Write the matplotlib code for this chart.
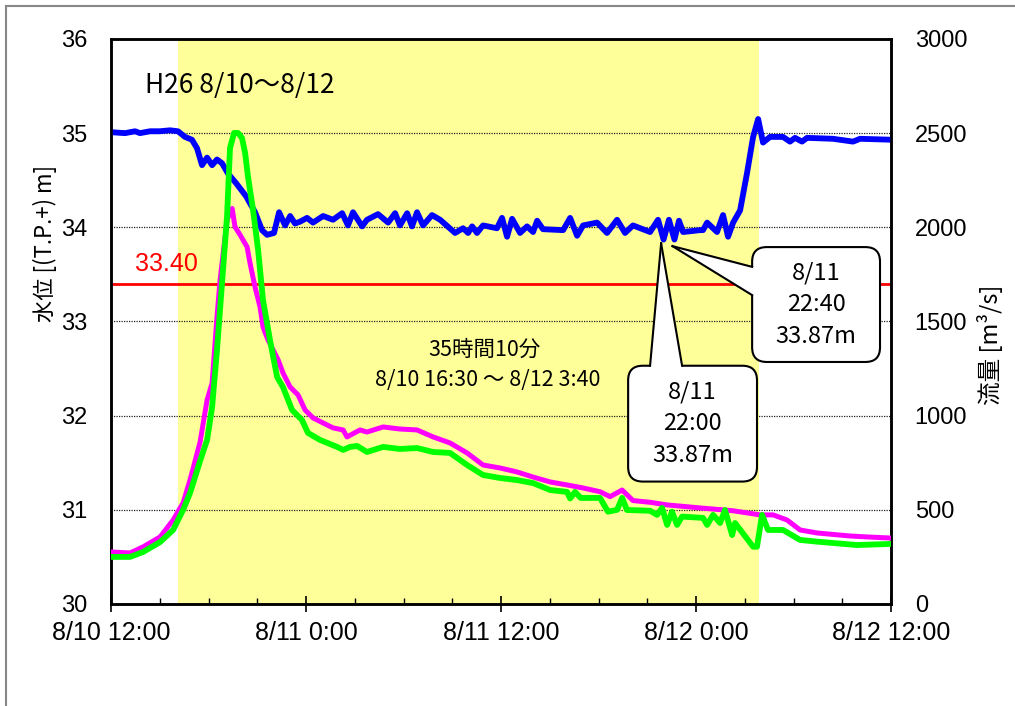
import matplotlib
matplotlib.use("Agg")
import matplotlib.pyplot as plt
from matplotlib.patches import FancyBboxPatch, Polygon
from matplotlib.lines import Line2D

plt.rcParams['font.family'] = ['Liberation Sans', 'Noto Sans CJK JP', 'DejaVu Sans']
JP = ['Noto Sans CJK JP', 'DejaVu Sans']

# x values are hours after 8/10 12:00
level_h = [0, 0.86, 1.48, 1.78, 2.4, 3.0, 3.63, 4.12, 4.55, 4.98,
           5.29, 5.6, 5.91, 6.22, 6.52, 6.83, 7.2, 7.69, 8.31, 8.86,
           9.29, 9.6, 10.03, 10.34, 10.71, 11.02, 11.32, 11.63, 12.06, 12.43,
           13.05, 13.66, 14.22, 14.58, 14.89, 15.45, 15.75, 16.43, 17.05, 17.48,
           17.78, 18.22, 18.52, 18.83, 19.2, 19.75, 20.25, 21.17, 21.66, 21.97,
           22.22, 22.52, 22.89, 23.75, 24.06, 24.37, 24.68, 25.17, 25.6, 25.97,
           26.22, 26.58, 27.82, 28.25, 28.68, 29.05, 29.91, 30.52, 31.14, 31.63,
           32.12, 33.17, 33.66, 34.0, 34.33, 34.67, 34.95, 35.2, 36.25, 36.43,
           36.68, 37.29, 37.66, 37.97, 38.28, 38.71, 39.14, 39.51, 39.82, 40.12,
           40.55, 41.35, 41.78, 42.09, 42.52, 42.83, 44.43, 45.66, 46.09, 48.0]
level_m = [35.01, 35.00, 35.02, 35.00, 35.02, 35.02, 35.03, 35.02, 34.96, 34.93,
           34.84, 34.66, 34.74, 34.66, 34.72, 34.68, 34.57, 34.47, 34.33, 34.16,
           33.97, 33.92, 33.94, 34.16, 34.02, 34.12, 34.04, 34.06, 34.10, 34.05,
           34.12, 34.08, 34.15, 34.02, 34.16, 34.01, 34.08, 34.14, 34.05, 34.15,
           34.02, 34.15, 34.01, 34.16, 34.02, 34.13, 34.08, 33.94, 33.99, 33.94,
           34.01, 33.94, 34.02, 33.99, 34.10, 33.90, 34.09, 33.94, 34.01, 33.95,
           34.07, 33.98, 33.97, 34.10, 33.91, 34.02, 34.05, 33.94, 34.08, 33.94,
           34.02, 33.95, 34.08, 33.87, 34.08, 33.87, 34.07, 33.95, 33.97, 33.97,
           34.05, 33.95, 34.13, 33.90, 34.05, 34.18, 34.58, 34.96, 35.15, 34.90,
           34.96, 34.96, 34.91, 34.95, 34.91, 34.95, 34.94, 34.91, 34.94, 34.93]

mag_h = [0, 1.17, 1.97, 3.02, 3.82, 4.43, 4.86, 5.48, 5.91, 6.22,
         6.52, 6.71, 7.14, 7.45, 7.63, 7.94, 8.37, 8.55, 8.86, 9.17,
         9.35, 9.66, 9.97, 10.28, 10.58, 11.02, 11.51, 11.94, 12.43, 13.05,
         13.66, 14.28, 14.52, 15.32, 15.75, 16.74, 17.78, 18.83, 19.82, 20.86,
         21.91, 22.89, 23.94, 24.98, 25.97, 27.02, 28.06, 29.05, 30.09, 30.71,
         31.45, 32.12, 33.17, 34.22, 36.25, 38.28, 39.94, 40.74, 41.6, 42.4,
         43.45, 45.48, 46.52, 48.0]
mag_q = [276, 271, 303, 356, 446, 536, 658, 860, 1083, 1173,
         1524, 1720, 2040, 2100, 2002, 1960, 1896, 1811, 1683, 1577,
         1471, 1402, 1349, 1296, 1227, 1152, 1110, 1030, 988, 961,
         935, 924, 887, 924, 913, 940, 929, 924, 887, 855,
         802, 738, 722, 701, 674, 648, 632, 616, 596, 570,
         605, 549, 540, 526, 510, 495, 473, 473, 446, 393,
         377, 361, 356, 350]

grn_h = [0, 1.17, 1.97, 3.02, 3.82, 4.43, 4.86, 5.48, 5.91, 6.22,
         6.52, 6.83, 7.14, 7.32, 7.57, 7.82, 8.06, 8.25, 8.43, 8.74,
         9.05, 9.35, 9.78, 10.22, 10.58, 11.14, 11.75, 12.12, 12.86, 13.91,
         14.28, 14.71, 15.14, 15.75, 16.74, 17.78, 18.83, 19.82, 20.86, 21.91,
         22.89, 23.94, 24.98, 25.97, 27.02, 28.06, 28.25, 28.55, 28.9, 30.09,
         30.58, 31.14, 31.45, 31.75, 33.17, 33.6, 33.91, 34.22, 34.52, 34.83,
         35.14, 36.43, 36.68, 37.05, 37.48, 37.78, 38.22, 38.4, 39.51, 39.75,
         40.06, 40.43, 41.35, 42.4, 43.45, 45.9, 48.0]
grn_q = [250, 250, 276, 329, 393, 499, 589, 760, 871, 1046,
         1349, 1705, 2060, 2420, 2501, 2501, 2474, 2395, 2267, 2092,
         1880, 1614, 1402, 1205, 1152, 1030, 977, 908, 871, 834,
         818, 834, 839, 807, 834, 823, 828, 807, 802, 738,
         685, 669, 658, 642, 605, 595, 560, 595, 563, 563,
         490, 500, 563, 499, 495, 473, 510, 420, 490, 420,
         464, 457, 420, 473, 430, 499, 366, 430, 304, 304,
         473, 393, 393, 340, 331, 313, 319]

x_ticks = [0, 12, 24, 36, 48]
x_labels = ['8/10 12:00', '8/11 0:00', '8/11 12:00', '8/12 0:00', '8/12 12:00']
span_start, span_end = 4.12, 39.9   # 8/10 16:30 - 8/12 3:40
threshold = 33.40

fig = plt.figure(figsize=(10.15, 7.06), dpi=100)
ax = fig.add_axes([0.1094, 0.1445, 0.7685, 0.8003])

ax.axvspan(span_start, span_end, color='#FFFF99', lw=0, zorder=0)
for v in range(31, 36):
    ax.axhline(v, color='#222222', lw=0.9, ls=(0, (1, 1)), zorder=1)
ax.axhline(threshold, color='#FF0000', lw=2, zorder=2)
ax.plot(level_h, level_m, color='#0000FF', lw=4.2, zorder=3, solid_joinstyle='round')

ax.set_xlim(0, 48)
ax.set_ylim(30, 36)
ax.set_yticks(range(30, 37))
ax.set_xticks(x_ticks)
ax.set_xticklabels(x_labels)
ax.set_xticks(range(0, 49, 3), minor=True)
ax.tick_params(axis='x', which='major', direction='inout', length=12, width=1.2,
               labelsize=18, pad=6)
ax.tick_params(axis='x', which='minor', direction='in', length=4, width=1)
ax.tick_params(axis='y', length=0, labelsize=17, pad=17)
for s in ax.spines.values():
    s.set_linewidth(1.8)

ax2 = ax.twinx()
ax2.plot(mag_h, mag_q, color='#FF00FF', lw=3.6, zorder=3, solid_joinstyle='round')
ax2.plot(grn_h, grn_q, color='#00FF00', lw=4.2, zorder=4, solid_joinstyle='round')
ax2.set_ylim(0, 3000)
ax2.set_yticks(range(0, 3001, 500))
ax2.tick_params(axis='y', length=0, labelsize=17, pad=17)
for s in ax2.spines.values():
    s.set_linewidth(1.8)

ax.text(0.0436, 0.918, 'H26 8/10～8/12', transform=ax.transAxes, fontsize=19,
        ha='left', va='center', family=JP)
ax.text(3.38, 33.61, '33.40', color='#FF0000', fontsize=18, ha='center', va='center')
ax.text(23.0, 32.70, '35時間10分', fontsize=15.5, ha='center', va='center', family=JP)
ax.text(23.2, 32.38, '8/10 16:30 ～ 8/12 3:40', fontsize=15.5, ha='center', va='center',
        family=JP)


def callout(x0, x1, y0, y1, tip, base, side, text):
    box = FancyBboxPatch((x0, y0), x1 - x0, y1 - y0,
                         boxstyle='round,pad=0,rounding_size=0.9',
                         mutation_aspect=0.1726, transform=ax.transData,
                         fc='white', ec='black', lw=1.5, zorder=10, clip_on=False)
    ax2.add_patch(box)
    if side == 'left':
        p0, p1 = (x0, base[0]), (x0, base[1])
        cover = [tip, p0, (x0 + 0.3, base[0]), (x0 + 0.3, base[1]), p1]
    else:
        p0, p1 = (base[0], y1), (base[1], y1)
        cover = [tip, p0, (base[0], y1 - 0.05), (base[1], y1 - 0.05), p1]
    ax2.add_patch(Polygon(cover, closed=True, fc='white', ec='none',
                          transform=ax.transData, zorder=11, clip_on=False))
    for p in (p0, p1):
        ax2.add_line(Line2D([tip[0], p[0]], [tip[1], p[1]], color='black', lw=1.5,
                            transform=ax.transData, zorder=12, clip_on=False))
    ax2.text((x0 + x1) / 2, (y0 + y1) / 2, text, transform=ax.transData, fontsize=17,
             ha='center', va='center', linespacing=1.5, zorder=13, family=JP)


callout(39.45, 47.32, 32.57, 33.79, (34.55, 33.80), (33.58, 33.28), 'left',
        '8/11\n22:40\n33.87m')
callout(31.82, 39.75, 31.30, 32.53, (33.85, 33.83), (33.17, 35.14), 'top',
        '8/11\n22:00\n33.87m')

fig.text(45 / 1015, 1 - 243 / 706, '水位 [(T.P.+) m]', rotation=90, fontsize=16,
         ha='center', va='center', family=JP)
fig.text(990 / 1015, 1 - 345 / 706, '流量 [m³/s]', rotation=90, fontsize=17,
         ha='center', va='center', family=JP)

# outer gray frame
fig.add_artist(Line2D([6 / 1015, 6 / 1015], [0, 1 - 6 / 706], color='#888888', lw=1.5))
fig.add_artist(Line2D([6 / 1015, 1], [1 - 6 / 706, 1 - 6 / 706], color='#888888', lw=1.5))

fig.savefig('out.png', dpi=100)
